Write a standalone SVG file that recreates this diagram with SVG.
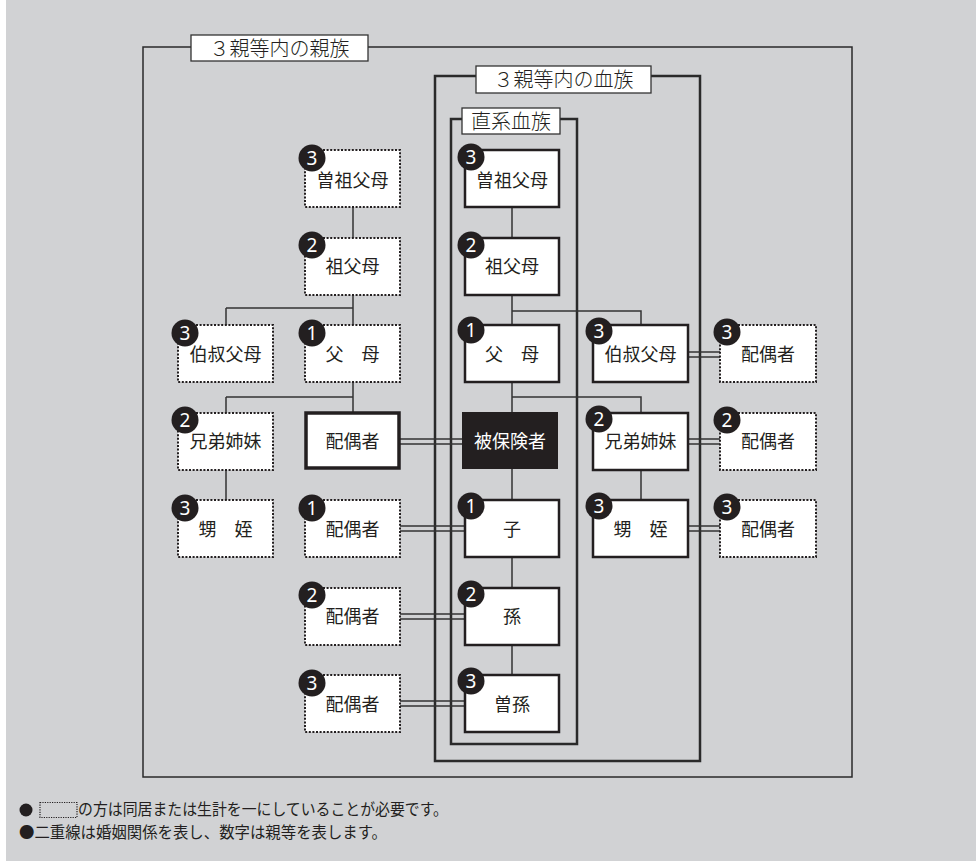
<svg xmlns="http://www.w3.org/2000/svg" width="976" height="861" viewBox="0 0 976 861">
<style>
text{font-family:"Noto Sans CJK JP","Noto Sans",sans-serif;fill:#231f20}
.t{font-size:18px;text-anchor:middle}
.lbl{font-size:20px;text-anchor:middle;font-weight:300}
.n{fill:#fff;stroke:#231f20;stroke-width:2.5}
.d{fill:#fff;stroke:#231f20;stroke-width:2;stroke-dasharray:2 1.6}
.c{stroke:#333;stroke-width:1.5;fill:none}
.dbl{stroke:#333;stroke-width:1.3;fill:none}
.fr{fill:none;stroke:#2a2a2a}
.b circle{fill:#231f20}
.b text{fill:#fff;font-size:19px;text-anchor:middle;font-family:"Noto Sans","Liberation Sans",sans-serif}
</style>
<rect x="0" y="0" width="976" height="861" fill="#d1d2d4"/>
<rect x="0" y="0" width="6" height="861" fill="#ffffff"/>

<!-- frames -->
<g id="frame-outer">
<rect class="fr" x="143" y="47" width="709" height="730" stroke-width="1.5"/>
<rect x="191" y="35" width="177" height="26" fill="#fff" stroke="#333" stroke-width="1.3"/>
<text class="lbl" x="279.5" y="56">３親等内の親族</text>
</g>
<g id="frame-blood">
<rect class="fr" x="435" y="76" width="265" height="685" stroke-width="2.5"/>
<rect x="476" y="66" width="175" height="27" fill="#fff" stroke="#333" stroke-width="1.3"/>
<text class="lbl" x="563.5" y="87">３親等内の血族</text>
</g>
<g id="frame-direct">
<rect class="fr" x="451" y="119" width="126" height="625" stroke-width="2.5"/>
<rect x="462" y="108" width="98" height="26" fill="#fff" stroke="#333" stroke-width="1.3"/>
<text class="lbl" x="511" y="129">直系血族</text>
</g>

<g id="connectors">
<path class="c" d="M353 207V238M353 295V325M226 308H353M226 308V325M353 382V412M226 397H353M226 397V413M226 470V500"/>
<path class="c" d="M512 207V238M512 295V325M512 382V412M512 469V500M512 557V588M512 645V675M512 311H641V325M512 397H641V413M641 470V500"/>
<path class="dbl" d="M400 439H462M400 444H462M400 526H465M400 531H465M400 614H465M400 619H465M400 701H465M400 706H465"/>
<path class="dbl" d="M688 352H720M688 357H720M688 439H720M688 444H720M688 526H720M688 531H720"/>
</g>

<!-- left outer column -->
<g id="n-oji-left"><rect class="d" x="178" y="325" width="95" height="57"/><text class="t" x="225.5" y="361">伯叔父母</text><g class="b"><circle cx="185" cy="333" r="13.5"/><text x="185" y="340">3</text></g></g>
<g id="n-kyodai-left"><rect class="d" x="178" y="413" width="95" height="57"/><text class="t" x="225.5" y="448">兄弟姉妹</text><g class="b"><circle cx="185" cy="420" r="13.5"/><text x="185" y="427">2</text></g></g>
<g id="n-oi-left"><rect class="d" x="178" y="500" width="95" height="57"/><text class="t" x="225.5" y="536">甥　姪</text><g class="b"><circle cx="185" cy="508" r="13.5"/><text x="185" y="515">3</text></g></g>

<!-- left column -->
<g id="n-sosofu-left"><rect class="d" x="305" y="150" width="95" height="57"/><text class="t" x="352.5" y="187">曽祖父母</text><g class="b"><circle cx="312" cy="158" r="13.5"/><text x="312" y="165">3</text></g></g>
<g id="n-sofu-left"><rect class="d" x="305" y="238" width="95" height="57"/><text class="t" x="352.5" y="273">祖父母</text><g class="b"><circle cx="312" cy="245" r="13.5"/><text x="312" y="252">2</text></g></g>
<g id="n-fubo-left"><rect class="d" x="305" y="325" width="95" height="57"/><text class="t" x="352.5" y="361">父　母</text><g class="b"><circle cx="312" cy="333" r="13.5"/><text x="312" y="340">1</text></g></g>
<g id="n-spouse-main"><rect x="306" y="413" width="93" height="55" fill="#fff" stroke="#231f20" stroke-width="3.5"/><text class="t" x="352.5" y="448">配偶者</text></g>
<g id="n-spouse-ko"><rect class="d" x="305" y="500" width="95" height="57"/><text class="t" x="352.5" y="536">配偶者</text><g class="b"><circle cx="312" cy="508" r="13.5"/><text x="312" y="515">1</text></g></g>
<g id="n-spouse-mago"><rect class="d" x="305" y="588" width="95" height="57"/><text class="t" x="352.5" y="623">配偶者</text><g class="b"><circle cx="312" cy="595" r="13.5"/><text x="312" y="602">2</text></g></g>
<g id="n-spouse-himago"><rect class="d" x="305" y="675" width="95" height="57"/><text class="t" x="352.5" y="711">配偶者</text><g class="b"><circle cx="312" cy="683" r="13.5"/><text x="312" y="690">3</text></g></g>

<!-- center column -->
<g id="n-sosofu"><rect class="n" x="465" y="150" width="94" height="57"/><text class="t" x="512" y="187">曽祖父母</text><g class="b"><circle cx="471" cy="157" r="13.5"/><text x="471" y="164">3</text></g></g>
<g id="n-sofu"><rect class="n" x="465" y="238" width="94" height="57"/><text class="t" x="512" y="273">祖父母</text><g class="b"><circle cx="471" cy="245" r="13.5"/><text x="471" y="252">2</text></g></g>
<g id="n-fubo"><rect class="n" x="465" y="325" width="94" height="57"/><text class="t" x="512" y="361">父　母</text><g class="b"><circle cx="471" cy="330" r="13.5"/><text x="471" y="337">1</text></g></g>
<g id="n-insured"><rect x="462" y="412" width="96" height="57" fill="#231f20"/><text class="t" x="510" y="448" style="fill:#fff">被保険者</text></g>
<g id="n-ko"><rect class="n" x="465" y="500" width="94" height="57"/><text class="t" x="512" y="536">子</text><g class="b"><circle cx="471" cy="506" r="13.5"/><text x="471" y="513">1</text></g></g>
<g id="n-mago"><rect class="n" x="465" y="588" width="94" height="57"/><text class="t" x="512" y="623">孫</text><g class="b"><circle cx="471" cy="594" r="13.5"/><text x="471" y="601">2</text></g></g>
<g id="n-himago"><rect class="n" x="465" y="675" width="94" height="57"/><text class="t" x="512" y="711">曽孫</text><g class="b"><circle cx="471" cy="681" r="13.5"/><text x="471" y="688">3</text></g></g>

<!-- right column -->
<g id="n-oji-right"><rect class="n" x="593" y="325" width="95" height="57"/><text class="t" x="640.5" y="361">伯叔父母</text><g class="b"><circle cx="599" cy="331" r="13.5"/><text x="599" y="338">3</text></g></g>
<g id="n-kyodai-right"><rect class="n" x="593" y="413" width="95" height="57"/><text class="t" x="640.5" y="448">兄弟姉妹</text><g class="b"><circle cx="599" cy="419" r="13.5"/><text x="599" y="426">2</text></g></g>
<g id="n-oi-right"><rect class="n" x="593" y="500" width="95" height="57"/><text class="t" x="640.5" y="536">甥　姪</text><g class="b"><circle cx="599" cy="506" r="13.5"/><text x="599" y="513">3</text></g></g>

<!-- far right -->
<g id="n-spouse-oji"><rect class="d" x="720" y="325" width="96" height="57"/><text class="t" x="768" y="361">配偶者</text><g class="b"><circle cx="727" cy="332" r="13.5"/><text x="727" y="339">3</text></g></g>
<g id="n-spouse-kyodai"><rect class="d" x="720" y="413" width="96" height="57"/><text class="t" x="768" y="448">配偶者</text><g class="b"><circle cx="727" cy="420" r="13.5"/><text x="727" y="427">2</text></g></g>
<g id="n-spouse-oi"><rect class="d" x="720" y="500" width="96" height="57"/><text class="t" x="768" y="536">配偶者</text><g class="b"><circle cx="727" cy="507" r="13.5"/><text x="727" y="514">3</text></g></g>

<!-- notes -->
<g id="notes">
<circle cx="26" cy="810" r="6.5" fill="#231f20"/>
<rect x="40" y="802.5" width="37" height="15" fill="none" stroke="#231f20" stroke-width="1.2" stroke-dasharray="1.2 1.2"/>
<text x="78" y="815" font-size="15.5" textLength="370" lengthAdjust="spacingAndGlyphs">の方は同居または生計を一にしていることが必要です。</text>
<text x="19" y="838" font-size="15.5" textLength="368" lengthAdjust="spacingAndGlyphs">●二重線は婚姻関係を表し、数字は親等を表します。</text>
</g>
</svg>
